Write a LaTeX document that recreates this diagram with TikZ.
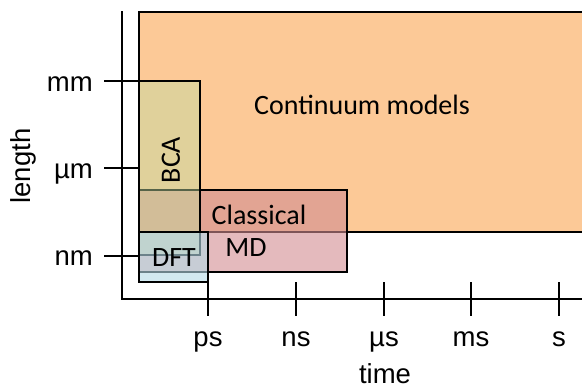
\documentclass[tikz,border=0pt]{standalone}
\usepackage{fontspec}
\setmainfont{Liberation Sans}
\newfontfamily\calibri{Carlito}
\definecolor{contC}{RGB}{252,201,151}
\definecolor{classC}{RGB}{210,140,145}
\definecolor{bcaC}{RGB}{192,220,160}
\definecolor{dftC}{RGB}{180,218,230}
\tikzset{
  ax/.style={line width=1.6pt, line cap=rect},
  boxline/.style={line width=1.6pt},
  boxlab/.style={font=\calibri\fontsize{28}{32}\selectfont, inner sep=0pt},
  axlab/.style={font=\fontsize{27.5}{32}\selectfont, inner sep=0pt},
}
\begin{document}
\begin{tikzpicture}[x=1pt,y=-1pt]
\useasboundingbox (0,0) rectangle (582,388);
\begin{scope}
\clip (0,0) rectangle (582,388);
% boxes
\draw[boxline, fill=contC] (139,12) rectangle (600,232);
\draw[boxline, fill=classC, fill opacity=0.6] (139,190) rectangle (347,272);
\draw[boxline, fill=bcaC, fill opacity=0.45] (139,81) rectangle (200,255);
\draw[boxline, fill=dftC, fill opacity=0.6] (139,232) rectangle (208,282);
% axes
\coordinate (o) at (122,299);
\coordinate (ytop) at (122,12);
\coordinate (xend) at (590,299);
\draw[ax] (ytop) -- (o) -- (xend);
\end{scope}
% y ticks
\foreach \n/\y in {mmt/81, umt/168, nmt/256}{
  \coordinate (\n a) at (104,\y);
  \coordinate (\n b) at (139,\y);
  \draw[ax, line cap=butt] (\n a) -- (\n b);
}
% x ticks
\foreach \n/\x in {pst/208, nst/296, ust/384, mst/471, st/559}{
  \coordinate (\n a) at (\x,282);
  \coordinate (\n b) at (\x,316);
  \draw[ax, line cap=butt] (\n a) -- (\n b);
}
% axis labels
\node[axlab, anchor=base east] (mm) at (93,91) {mm};
\node[axlab, anchor=base east] (um) at (93,178) {µm};
\node[axlab, anchor=base east] (nm) at (93,265) {nm};
\node[axlab, rotate=90] (length) at (23,166) {length};
\node[axlab, anchor=base] (ps) at (208,346) {ps};
\node[axlab, anchor=base] (ns) at (296,346) {ns};
\node[axlab, anchor=base] (us) at (384,346) {µs};
\node[axlab, anchor=base] (ms) at (471,346) {ms};
\node[axlab, anchor=base] (s) at (559,346) {s};
\node[axlab, anchor=base] (time) at (385,383) {time};
% box labels
\node[boxlab] (cont) at (362,105) {Continuum models};
\node[boxlab, rotate=90] (bca) at (171,160) {BCA};
\node[boxlab] (classical) at (259,215) {Classical};
\node[boxlab] (md) at (246,248) {MD};
\node[boxlab] (dft) at (174,258) {DFT};
\end{tikzpicture}
\end{document}
